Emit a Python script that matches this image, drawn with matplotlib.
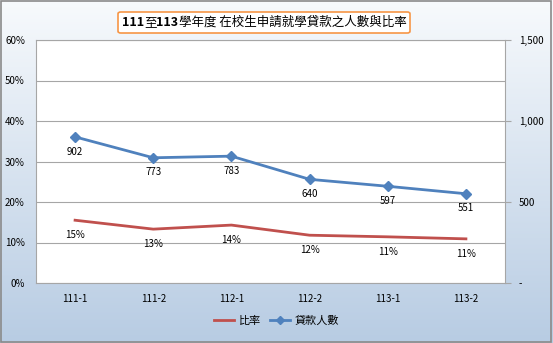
import numpy as np
import matplotlib.pyplot as plt
from matplotlib.patches import FancyBboxPatch, Rectangle
from matplotlib.lines import Line2D

plt.rcParams['font.family'] = ['Noto Sans CJK TC', 'DejaVu Sans']

terms = ['111-1', '111-2', '112-1', '112-2', '113-1', '113-2']
ratio = [15.5, 13.3, 14.3, 11.8, 11.4, 10.9]       # percent
ratio_labels = ['15%', '13%', '14%', '12%', '11%', '11%']
borrowers = [902, 773, 783, 640, 597, 551]

fig = plt.figure(figsize=(5.53, 3.43), dpi=100)

# chart background: light gradient, white at top to pale blue at bottom
bg = fig.add_axes([0, 0, 1, 1], zorder=-10)
grad = np.linspace(0, 1, 256).reshape(-1, 1)
top = np.array([0.97, 0.98, 0.99])
bottom = np.array([0.72, 0.80, 0.89])
img = top + (bottom - top) * grad[:, :, None]
bg.imshow(img, aspect='auto', extent=[0, 1, 0, 1])
bg.add_patch(Rectangle((0.002, 0.003), 0.995, 0.994, fill=False,
                       edgecolor='#8a8a8a', lw=1.2, transform=bg.transAxes))
bg.axis('off')

ax = fig.add_axes([36 / 553, 60 / 343, 469 / 553, 243 / 343])
ax.set_facecolor('white')
x = np.arange(len(terms))

ax.plot(x, ratio, color='#c0504d', lw=2, zorder=3)
ax.set_ylim(0, 60)
ax.set_xlim(-0.5, len(terms) - 0.5)
ax.set_yticks(np.arange(0, 61, 10))
ax.set_yticklabels([f'{v}%' for v in range(0, 61, 10)])
ax.grid(axis='y', color='#a6a6a6', lw=0.8)
ax.set_axisbelow(True)
ax.set_xticks(x)
ax.set_xticklabels(terms)
ax.tick_params(axis='x', length=0, pad=8)
ax.tick_params(axis='y', length=0, pad=8)
for s in ax.spines.values():
    s.set_color('#a6a6a6')
    s.set_linewidth(0.8)
for xi, v, lab in zip(x, ratio, ratio_labels):
    ax.annotate(lab, (xi, v), xytext=(0, -7), textcoords='offset points',
                ha='center', va='top', fontsize=7)

ax2 = ax.twinx()
ax2.plot(x, borrowers, color='#4f81bd', lw=2, marker='D', ms=5, zorder=3)
ax2.set_ylim(0, 1500)
ax2.set_yticks([0, 500, 1000, 1500])
ax2.set_yticklabels(['-', '500', '1,000', '1,500'])
ax2.tick_params(axis='y', length=4, color='#a6a6a6', pad=6)
for s in ax2.spines.values():
    s.set_visible(False)
for xi, v in zip(x, borrowers):
    ax2.annotate(str(v), (xi, v), xytext=(0, -7), textcoords='offset points',
                 ha='center', va='top', fontsize=7)

for a in (ax, ax2):
    for t in a.get_xticklabels() + a.get_yticklabels():
        t.set_fontsize(7)

handles = [Line2D([], [], color='#c0504d', lw=2),
           Line2D([], [], color='#4f81bd', lw=2, marker='D', ms=4)]
fig.legend(handles, ['比率', '貸款人數'], loc='center', ncol=2,
           bbox_to_anchor=(0.5, 22 / 343), frameon=False, fontsize=8,
           handlelength=1.8, handletextpad=0.4, columnspacing=0.8)

# title box with bold year numbers
fig.patches.append(FancyBboxPatch((118 / 553, 310 / 343), 292 / 553, 21 / 343,
                                  boxstyle='round,pad=0,rounding_size=0.005',
                                  transform=fig.transFigure, facecolor='white',
                                  edgecolor='#f79646', lw=1.2))
parts = [('111', 'bold'), ('至', 'normal'), ('113', 'bold'),
         ('學年度 在校生申請就學貸款之人數與比率', 'normal')]
fig.canvas.draw()
renderer = fig.canvas.get_renderer()
texts = []
for s, w in parts:
    texts.append(fig.text(0, 320.5 / 343, s, fontsize=9, weight=w, va='center'))
widths = [t.get_window_extent(renderer).width for t in texts]
xpos = (264 - sum(widths) / 2) / 553
for t, wd in zip(texts, widths):
    t.set_x(xpos)
    xpos += wd / 553

fig.savefig('out.png', dpi=100)
